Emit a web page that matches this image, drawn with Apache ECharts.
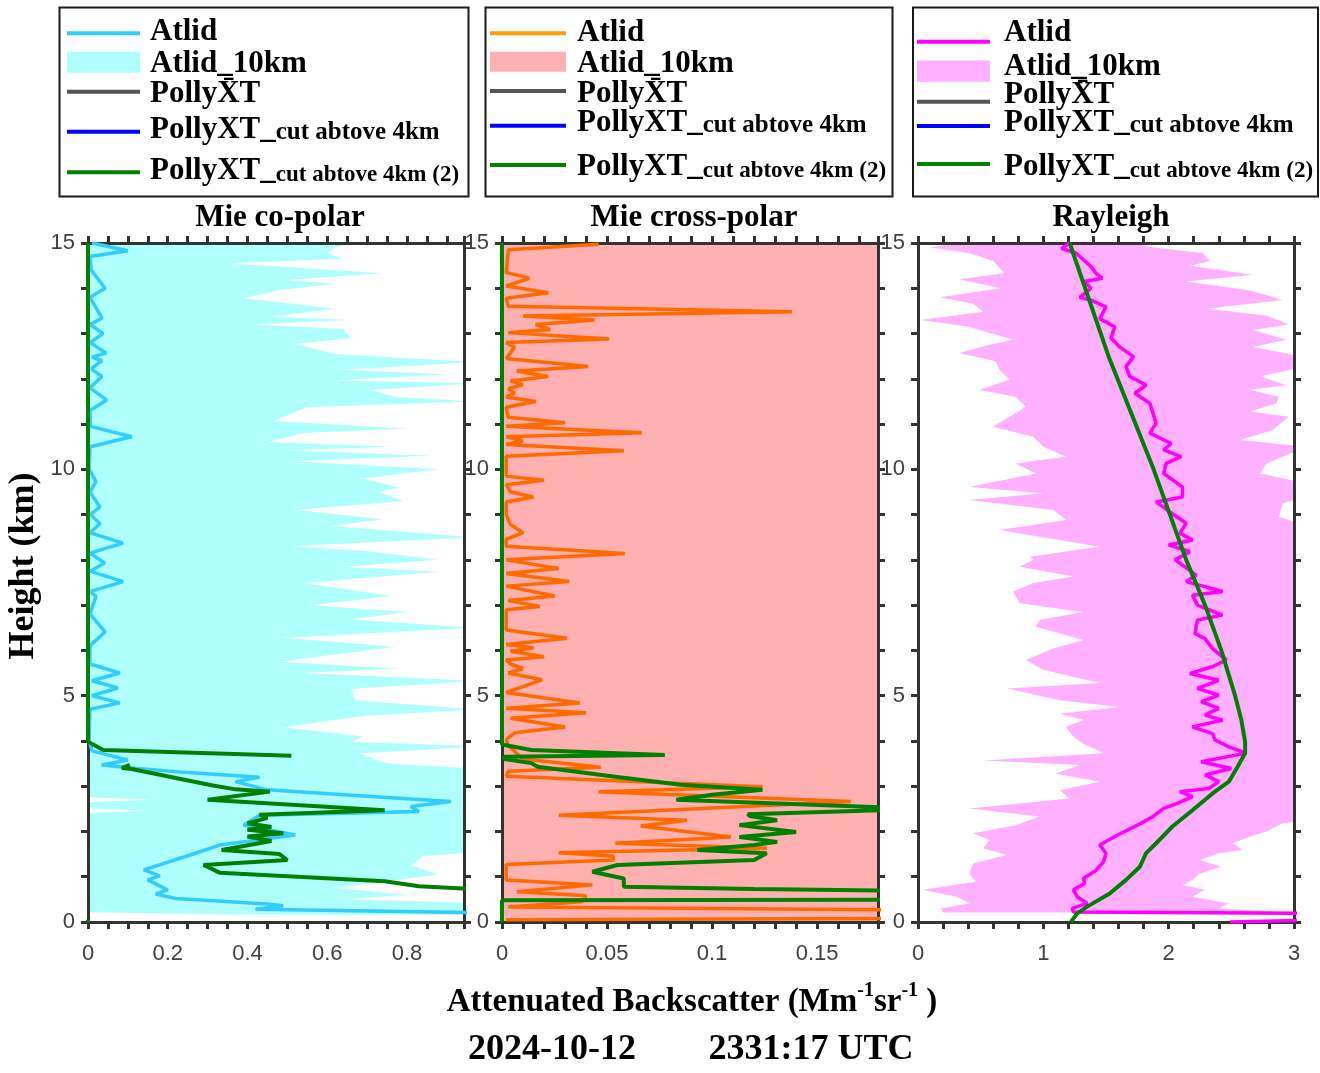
<!DOCTYPE html>
<html>
<head>
<meta charset="utf-8">
<script src="https://cdn.jsdelivr.net/npm/echarts@6/dist/echarts.min.js"></script>
<style>
html, body { margin: 0; padding: 0; background: #ffffff; }
#chart { width: 1320px; height: 1073px; }
</style>
</head>
<body>
<div id="chart"></div>
<script>
// ---------- profile data: [backscatter, height km] ----------

// Mie co-polar
const coAtlid = [[0.01,15.0],[0.10,14.83],[0.005,14.7],[0.008,14.4],[0.043,14.0],[0.005,13.8],[0.035,13.34],[0.005,13.2],[0.038,13.0],[0.005,12.8],[0.045,12.57],[0.01,12.48],[0.035,12.4],[0.008,12.22],[0.035,12.05],[0.005,11.8],[0.047,11.53],[0.005,11.3],[0.006,10.95],[0.11,10.72],[0.005,10.5],[0.003,10.0],[0.02,9.73],[0.005,9.5],[0.03,9.17],[0.006,9.0],[0.03,8.8],[0.005,8.6],[0.088,8.37],[0.005,8.15],[0.042,7.93],[0.005,7.75],[0.088,7.52],[0.005,7.3],[0.02,7.2],[0.005,6.8],[0.043,6.41],[0.005,6.1],[0.005,5.7],[0.08,5.5],[0.01,5.33],[0.075,5.17],[0.01,5.0],[0.08,4.84],[0.005,4.7],[0.003,4.0],[0.01,3.78],[0.10,3.58],[0.034,3.47],[0.11,3.40],[0.25,3.30],[0.43,3.20],[0.37,3.10],[0.45,2.92],[0.70,2.78],[0.91,2.66],[0.81,2.55],[0.83,2.44],[0.43,2.36],[0.39,2.14],[0.52,1.92],[0.33,1.70],[0.256,1.48],[0.14,1.15],[0.18,1.02],[0.15,0.93],[0.20,0.71],[0.17,0.62],[0.22,0.52],[0.45,0.40],[0.49,0.36],[0.42,0.28],[1.1,0.19],[1.1,0.1]];
const coLower = [[-0.22,15.0],[-0.18,10.0],[-0.25,5.0],[-0.2,2.82],[0.16,2.70],[-0.2,2.58],[0.15,2.46],[-0.2,2.34],[-0.24,0.25],[0.42,0.16]];
const coUpper = [[0.66,15.0],[0.62,14.9],[0.60,14.78],[0.64,14.65],[0.35,14.55],[0.74,14.33],[0.50,14.18],[0.62,14.1],[0.48,13.96],[0.39,13.78],[0.62,13.55],[0.456,13.37],[0.66,13.3],[0.41,13.2],[0.64,13.1],[0.66,12.9],[0.52,12.77],[0.62,12.55],[0.97,12.37],[0.64,12.2],[0.90,12.1],[0.62,11.96],[0.97,11.9],[0.71,11.75],[0.77,11.6],[0.97,11.5],[0.55,11.37],[0.465,11.07],[0.80,10.9],[0.54,10.8],[0.45,10.6],[0.77,10.5],[0.50,10.42],[0.86,10.3],[0.51,10.18],[0.88,10.0],[0.69,9.8],[0.78,9.6],[0.73,9.5],[0.79,9.3],[0.52,9.1],[0.74,8.9],[0.61,8.75],[0.97,8.5],[0.51,8.3],[0.69,8.2],[0.88,8.0],[0.64,7.85],[0.88,7.74],[0.54,7.49],[0.76,7.2],[0.56,7.0],[0.80,6.85],[0.66,6.68],[0.97,6.5],[0.49,6.28],[0.77,6.08],[0.61,5.9],[0.48,5.75],[0.78,5.6],[0.54,5.5],[0.97,5.33],[0.66,5.15],[0.67,4.9],[0.97,4.7],[0.69,4.55],[0.49,4.3],[0.69,4.1],[0.66,3.98],[0.98,3.88],[0.68,3.72],[0.75,3.5],[0.98,3.38],[0.98,1.55],[0.84,1.45],[0.81,1.25],[0.88,1.05],[0.70,0.85],[0.62,0.75],[0.80,0.6],[0.64,0.5],[0.98,0.42],[0.98,0.16]];
const coPolly = [[0,15],[0,3.98],[0.038,3.80],[0.51,3.67],['-','-'],[0.105,3.47],[0.085,3.40],[0.11,3.38],[0.22,3.18],[0.31,3.02],[0.37,2.93],[0.456,2.88],[0.30,2.70],[0.744,2.47],[0.43,2.37],[0.45,2.30],[0.40,2.18],[0.46,2.10],[0.40,2.04],[0.49,1.96],[0.40,1.89],[0.46,1.79],[0.335,1.59],[0.48,1.50],[0.50,1.37],[0.29,1.26],[0.33,1.09],[0.744,0.90],[0.83,0.79],[0.94,0.74],[1.3,0.72],['-','-'],[0,0.05],[0,0]];

// Mie cross-polar
const crossAtlid = [[0.046,14.97],[0.003,14.85],[0.002,14.35],[0.013,14.22],[0.002,14.05],[0.022,13.9],[0.002,13.78],[0.003,13.6],[0.138,13.48],[0.010,13.39],[0.044,13.30],[0.016,13.20],[0.023,13.09],[0.003,13.02],[0.051,12.88],[0.002,12.80],[0.006,12.70],[0.002,12.45],[0.041,12.27],[0.007,12.17],[0.022,12.05],[0.004,11.95],[0.010,11.87],[0.003,11.78],[0.006,11.68],[0.002,11.60],[0.016,11.50],[0.002,11.37],[0.003,11.15],[0.030,11.03],[0.002,10.95],[0.0665,10.81],[0.002,10.72],[0.010,10.63],[0.002,10.55],[0.058,10.41],[0.002,10.29],[0.002,9.85],[0.020,9.76],[0.002,9.66],[0.004,9.50],[0.015,9.39],[0.002,9.28],[0.002,9.00],[0.004,8.78],[0.010,8.60],[0.002,8.45],[0.002,8.30],[0.0585,8.14],[0.002,8.00],[0.027,7.81],[0.002,7.70],[0.032,7.52],[0.002,7.42],[0.025,7.20],[0.003,7.10],[0.018,6.97],[0.002,6.90],[0.002,6.45],[0.031,6.27],[0.002,6.13],[0.015,6.06],[0.004,5.98],[0.020,5.86],[0.002,5.79],[0.004,5.70],[0.010,5.60],[0.003,5.50],[0.019,5.35],[0.010,5.20],[0.002,5.07],[0.037,4.84],[0.002,4.72],[0.040,4.62],[0.004,4.50],[0.030,4.31],[0.006,4.18],[0.002,4.03],[0.003,3.90],[0.010,3.60],[0.047,3.42],[0.003,3.33],[0.002,3.22],[0.124,2.99],[0.046,2.88],[0.166,2.66],[0.027,2.36],[0.088,2.25],[0.066,2.12],[0.109,1.88],[0.054,1.74],[0.126,1.63],[0.027,1.53],[0.053,1.45],[0.053,1.37],[0.002,1.27],[0.002,0.93],[0.043,0.82],[0.007,0.67],[0.040,0.58],[0.038,0.45],[0.003,0.33],[0.35,0.21],[0.35,0.10],[0.002,0.05]];
const crossLower = [[-0.06,15],[-0.05,10],[-0.07,5],[-0.04,3.7],[-0.05,1.5],[-0.03,0]];
const crossUpper = [[0.25,15],[0.28,10],[0.24,5],[0.27,3.7],[0.32,1.5],[0.30,0]];
const crossPolly = [[0,15],[0,3.92],[0.014,3.80],[0.0775,3.69],[0.001,3.65],[0.001,3.60],[0.014,3.51],[0.017,3.43],[0.054,3.21],[0.085,3.03],[0.124,2.92],[0.100,2.81],[0.083,2.70],[0.20,2.50],[0.117,2.38],[0.118,2.34],[0.131,2.25],[0.113,2.14],[0.140,1.99],[0.113,1.88],[0.131,1.77],[0.120,1.70],[0.093,1.59],[0.126,1.52],[0.120,1.37],[0.055,1.26],[0.043,1.11],[0.058,0.96],[0.058,0.78],[0.120,0.73],[0.19,0.69],[0.30,0.62],[0.30,0.50],[0,0.48],[0,0]];

// Rayleigh
const rayAtlid = [[1.21,15.0],[1.145,14.88],[1.26,14.78],[1.38,14.48],[1.42,14.33],[1.47,14.22],[1.33,14.15],[1.38,14.0],[1.29,13.8],[1.38,13.74],[1.50,13.59],[1.45,13.33],[1.57,13.15],[1.54,12.9],[1.61,12.7],[1.72,12.49],[1.66,12.27],[1.69,12.05],[1.82,11.86],[1.73,11.68],[1.85,11.46],[1.87,11.28],[1.90,11.02],[1.85,10.8],[2.02,10.57],[1.96,10.43],[2.10,10.28],[1.98,10.13],[1.96,9.91],[2.11,9.61],[2.11,9.39],[1.90,9.28],[2.03,9.02],[2.14,8.81],[2.09,8.59],[2.19,8.44],[2.00,8.33],[2.17,8.18],[2.05,8.0],[2.17,7.77],[2.22,7.66],[2.14,7.52],[2.43,7.30],[2.19,7.22],[2.23,7.0],[2.43,6.78],[2.23,6.67],[2.21,6.37],[2.29,6.26],[2.35,6.04],[2.46,5.79],[2.35,5.64],[2.17,5.49],[2.40,5.34],[2.23,5.16],[2.40,5.01],[2.26,4.87],[2.40,4.72],[2.29,4.57],[2.43,4.46],[2.19,4.31],[2.35,4.16],[2.37,4.02],[2.48,3.87],[2.62,3.73],[2.26,3.54],[2.50,3.39],[2.29,3.25],[2.40,3.10],[2.32,2.95],[2.09,2.88],[2.19,2.77],[2.07,2.62],[1.96,2.51],[1.875,2.33],[1.78,2.18],[1.70,2.07],[1.57,1.89],[1.45,1.70],[1.50,1.52],[1.48,1.33],[1.42,1.14],[1.32,0.965],[1.33,0.85],[1.24,0.71],[1.27,0.56],[1.35,0.41],[1.23,0.30],[1.24,0.22],[3.4,0.19],[3.4,0.06],[2.49,0.0]];
const rayLower = [[0.31,15.0],[0.10,14.9],[0.41,14.78],[0.60,14.6],[0.69,14.33],[0.33,14.2],[0.66,14.0],[0.175,13.8],[0.44,13.66],[0.52,13.48],[0.02,13.3],[0.41,13.15],[0.49,13.08],[0.76,12.86],[0.57,12.75],[0.33,12.57],[0.62,12.39],[0.65,12.2],[0.73,11.98],[0.49,11.76],[0.78,11.6],[0.86,11.38],[0.73,11.16],[0.60,10.94],[0.92,10.72],[1.00,10.5],[1.18,10.28],[0.78,10.13],[0.94,9.91],[0.41,9.61],[1.00,9.47],[0.41,9.32],[1.08,9.1],[1.18,8.88],[0.65,8.66],[0.97,8.51],[1.45,8.29],[0.89,8.07],[0.92,8.0],[0.81,7.85],[1.24,7.63],[0.92,7.49],[0.76,7.3],[0.81,7.04],[1.32,6.85],[0.97,6.67],[0.94,6.52],[1.32,6.23],[1.08,6.04],[0.86,5.79],[1.00,5.57],[1.45,5.28],[0.71,5.16],[1.13,4.9],[1.61,4.75],[1.13,4.6],[1.32,4.46],[1.18,4.31],[1.24,4.09],[1.32,3.94],[1.48,3.73],[0.52,3.57],[1.29,3.47],[1.10,3.28],[1.45,3.10],[1.13,2.91],[1.21,2.73],[0.41,2.51],[0.97,2.33],[0.78,2.14],[0.44,1.96],[0.57,1.81],[0.52,1.63],[0.71,1.48],[0.44,1.29],[0.41,1.07],[0.46,0.89],[0.04,0.71],[0.31,0.56],[0.41,0.41],[0.18,0.30],[0.20,0.21]];
const rayUpper = [[1.72,15.0],[1.88,14.9],[2.27,14.78],[2.33,14.6],[2.17,14.5],[2.67,14.3],[2.14,14.15],[2.65,13.95],[2.91,13.74],[2.30,13.55],[2.78,13.4],[2.96,13.2],[2.67,13.08],[2.94,12.86],[2.67,12.7],[3.05,12.5],[3.08,12.27],[2.73,12.05],[2.94,11.86],[2.65,11.76],[2.88,11.6],[2.86,11.46],[2.65,11.28],[2.96,11.16],[2.83,10.87],[2.57,10.65],[3.1,10.5],[2.78,10.13],[2.73,9.91],[3.1,9.69],[3.1,9.39],[2.91,9.25],[2.88,8.95],[3.2,8.66],[3.2,8.29],[3.2,7.92],[3.2,5.0],[3.2,2.3],[2.91,2.18],[2.78,2.0],[2.65,1.89],[2.51,1.74],[2.59,1.59],[2.40,1.52],[2.25,1.37],[2.42,1.22],[2.25,1.07],[2.19,0.93],[2.11,0.82],[2.29,0.71],[2.19,0.56],[2.48,0.41],[2.40,0.30],[3.0,0.21]];
const rayPolly = [[1.21,15],[1.52,12.5],[1.88,10],[2.14,8],[2.29,7],[2.42,6],[2.53,5],[2.58,4.46],[2.61,3.98],[2.61,3.73],[2.55,3.43],[2.48,3.10],[2.35,2.84],[2.19,2.47],[2.03,2.11],[1.90,1.74],[1.82,1.52],[1.77,1.22],[1.66,0.93],[1.53,0.63],[1.35,0.34],[1.27,0.19],[1.22,0]];

// tick labels
const coTicks = ['0', '0.2', '0.4', '0.6', '0.8'];
const crossTicks = ['0', '0.05', '0.1', '0.15'];
const rayTicks = ['0', '1', '2', '3'];
const heightTicks = ['0', '5', '10', '15'];

// legend entries
const legendLabels = ['Atlid', 'Atlid_10km', 'PollyX\u0304T', 'PollyXT_cut abtove 4km', 'PollyXT_cut abtove 4km (2)'];

// ---------- layout and style ----------
const SERIF = '"Liberation Serif","Times New Roman",serif';
const SANS = '"Liberation Sans",Arial,sans-serif';
const AXIS = '#333333';
const GRID_TOP = 243, GRID_H = 679, GRID_W = 376;

const panels = [
  { title: 'Mie co-polar', titleX: 280, left: 88, max: 0.943, step: 0.05, labelStep: 0.2, ticks: coTicks,
    atlid: coAtlid, lower: coLower, upper: coUpper, polly: coPolly,
    line: '#33ccff', legendLine: '#33ccff', fill: '#b0ffff' },
  { title: 'Mie cross-polar', titleX: 694, left: 502, max: 0.179, step: 0.01, labelStep: 0.05, ticks: crossTicks,
    atlid: crossAtlid, lower: crossLower, upper: crossUpper, polly: crossPolly,
    line: '#ff6a00', legendLine: '#ffa000', fill: '#ffb0b0' },
  { title: 'Rayleigh', titleX: 1111, left: 918, max: 3, step: 0.2, labelStep: 1, ticks: rayTicks,
    atlid: rayAtlid, lower: rayLower, upper: rayUpper, polly: rayPolly,
    line: '#ff00ff', legendLine: '#ff00ff', fill: '#ffb0ff' }
];

const legendBoxes = [
  { x: 59.5, w: 409, x0: 67, x1: 140, textX: 150, lineY: [33.3, 0, 91.7, 131.7, 172.3], rect: [51.7, 72.7], textY: [31.5, 63.5, 93.5, 129.7, 170.8] },
  { x: 485.5, w: 407, x0: 490, x1: 566, textX: 577, lineY: [33.3, 0, 91, 125.7, 165], rect: [51.7, 71.7], textY: [33, 63.5, 94, 123, 166.7] },
  { x: 913, w: 405, x0: 917, x1: 990, textX: 1004, lineY: [41.7, 0, 101.7, 126, 164], rect: [60.5, 81.7], textY: [33, 66.5, 95.3, 123, 166.7] }
];
const pollyColors = ['#555555', '#0000ff', '#008000'];
const smallSizes = [0, 0, 0, 25, 23];

function tickFormatter(labels, step) {
  return function (v) {
    const k = v / step;
    const r = Math.round(k);
    return (Math.abs(k - r) < 1e-6 && labels[r] !== undefined) ? labels[r] : '';
  };
}

function axisCommon() {
  return {
    type: 'value',
    axisLine: { show: true, onZero: false, lineStyle: { color: AXIS, width: 3 } },
    axisTick: { show: true, inside: false, length: 7, lineStyle: { color: AXIS, width: 3 } },
    splitLine: { show: false }
  };
}

const grids = [], xAxes = [], yAxes = [], series = [];

panels.forEach((p, i) => {
  grids.push({ left: p.left, top: GRID_TOP, width: GRID_W, height: GRID_H, containLabel: false });

  xAxes.push(Object.assign(axisCommon(), {
    gridIndex: i, position: 'bottom', min: 0, max: p.max, interval: p.step,
    axisLabel: { formatter: tickFormatter(p.ticks, p.labelStep), color: '#404040', fontFamily: SANS, fontSize: 22, margin: 21 }
  }));
  xAxes.push(Object.assign(axisCommon(), {
    gridIndex: i, position: 'top', min: 0, max: p.max, interval: p.step, axisLabel: { show: false }
  }));
  yAxes.push(Object.assign(axisCommon(), {
    gridIndex: i, position: 'left', min: 0, max: 15, interval: 1,
    axisLabel: { formatter: tickFormatter(heightTicks, 5), color: '#404040', fontFamily: SANS, fontSize: 22, margin: 13 }
  }));
  yAxes.push(Object.assign(axisCommon(), {
    gridIndex: i, position: 'right', min: 0, max: 15, interval: 1, axisLabel: { show: false }
  }));

  // Atlid_10km band: lower edge top-to-bottom, then upper edge bottom-to-top
  const ring = p.lower.concat(p.upper.slice().reverse());
  const fill = p.fill;
  series.push({
    name: 'Atlid_10km', type: 'custom', xAxisIndex: 2 * i, yAxisIndex: 2 * i,
    data: ring, encode: { x: 0, y: 1 }, clip: true, silent: true, z: -1,
    renderItem: function (params, api) {
      if (params.dataIndexInside !== 0) return null;
      const pts = [];
      for (let k = 0; k < params.dataInsideLength; k++) {
        pts.push(api.coord([api.value(0, k), api.value(1, k)]));
      }
      return { type: 'polygon', shape: { points: pts }, style: { fill: fill, stroke: null } };
    }
  });
  series.push({
    name: 'Atlid', type: 'line', xAxisIndex: 2 * i, yAxisIndex: 2 * i,
    data: p.atlid, showSymbol: false, symbol: 'none', silent: true, z: 2,
    lineStyle: { color: p.line, width: 3.5 }, itemStyle: { color: p.line }
  });
  series.push({
    name: 'PollyXT_cut abtove 4km (2)', type: 'line', xAxisIndex: 2 * i, yAxisIndex: 2 * i,
    data: p.polly, showSymbol: false, symbol: 'none', silent: true, z: 3, connectNulls: false,
    lineStyle: { color: '#008000', width: 4 }, itemStyle: { color: '#008000' }
  });
});

// ---------- legends, titles and captions ----------
const graphics = [];
legendBoxes.forEach((b, i) => {
  const p = panels[i];
  graphics.push({ type: 'rect', shape: { x: b.x, y: 7.5, width: b.w, height: 189 },
    style: { fill: '#ffffff', stroke: '#1a1a1a', lineWidth: 2 } });
  legendLabels.forEach((label, k) => {
    if (k === 1) {
      graphics.push({ type: 'rect', shape: { x: b.x0, y: b.rect[0], width: b.x1 - b.x0, height: b.rect[1] - b.rect[0] },
        style: { fill: p.fill } });
    } else {
      const col = k === 0 ? p.legendLine : pollyColors[k - 2];
      graphics.push({ type: 'line', shape: { x1: b.x0, y1: b.lineY[k], x2: b.x1, y2: b.lineY[k] },
        style: { stroke: col, lineWidth: 4 } });
    }
    let textStyle;
    if (k >= 3) {
      const parts = label.split('_');
      textStyle = {
        text: '{a|' + parts[0] + '_}{b|' + parts[1] + '}',
        rich: {
          a: { fontFamily: SERIF, fontWeight: 'bold', fontSize: 31, fill: '#000', verticalAlign: 'bottom' },
          b: { fontFamily: SERIF, fontWeight: 'bold', fontSize: smallSizes[k], fill: '#000', verticalAlign: 'bottom' }
        }
      };
    } else {
      textStyle = { text: label, font: 'bold 31px ' + SERIF };
    }
    graphics.push({ type: 'text', x: b.textX, y: b.textY[k],
      style: Object.assign({ fill: '#000', align: 'left', verticalAlign: 'middle' }, textStyle) });
  });
});

panels.forEach(p => {
  graphics.push({ type: 'text', x: p.titleX, y: 218,
    style: { text: p.title, font: 'bold 31px ' + SERIF, fill: '#000', align: 'center', verticalAlign: 'middle' } });
});

graphics.push({ type: 'text', x: 24, y: 566, rotation: Math.PI / 2,
  style: { text: 'Height (km)', font: 'bold 36px ' + SERIF, fill: '#000', align: 'center', verticalAlign: 'middle' } });

graphics.push({ type: 'text', x: 692, y: 1000,
  style: {
    text: '{m|Attenuated Backscatter (Mm}{s|-1}{m|sr}{s|-1}{m| )}',
    fill: '#000', align: 'center', verticalAlign: 'middle',
    rich: {
      m: { fontFamily: SERIF, fontWeight: 'bold', fontSize: 33, lineHeight: 38, fill: '#000', verticalAlign: 'bottom' },
      s: { fontFamily: SERIF, fontWeight: 'bold', fontSize: 20, lineHeight: 21, fill: '#000', verticalAlign: 'top' }
    }
  } });

graphics.push({ type: 'text', x: 552, y: 1050,
  style: { text: '2024-10-12', font: 'bold 36px ' + SERIF, fill: '#000', align: 'center', verticalAlign: 'middle' } });
graphics.push({ type: 'text', x: 811, y: 1050,
  style: { text: '2331:17 UTC', font: 'bold 36px ' + SERIF, fill: '#000', align: 'center', verticalAlign: 'middle' } });

const chart = echarts.init(document.getElementById('chart'), null, { renderer: 'canvas' });
chart.setOption({
  backgroundColor: '#ffffff',
  animation: false,
  grid: grids,
  xAxis: xAxes,
  yAxis: yAxes,
  series: series,
  graphic: { elements: graphics }
});
</script>
</body>
</html>
